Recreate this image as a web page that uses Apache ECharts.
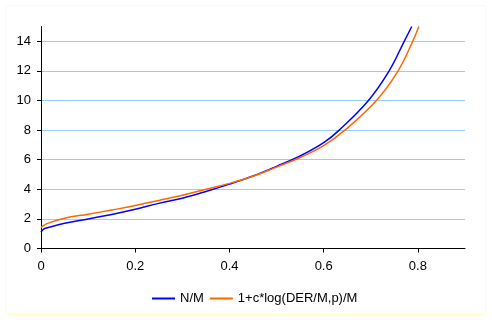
<!DOCTYPE html>
<html>
<head>
  <meta charset="UTF-8" />
  <title>N/M</title>
  <style>
    html, body { margin: 0; padding: 0; background: #fff; }
    #chart { width: 492px; height: 320px; }
  </style>
  <script src="https://cdn.jsdelivr.net/npm/echarts@6/dist/echarts.min.js"></script>
</head>
<body>
  <div id="chart"></div>
  <script>
    // values
    var blueX = [0, 0.005, 0.014, 0.05, 0.1, 0.15, 0.2, 0.25, 0.3, 0.35, 0.4, 0.45, 0.5, 0.55, 0.6, 0.633, 0.695, 0.739, 0.771, 0.787];
    var blueY = [1.1, 1.3, 1.4, 1.7, 2.0, 2.3, 2.65, 3.05, 3.4, 3.85, 4.35, 4.9, 5.55, 6.25, 7.15, 8.0, 10.0, 12.0, 14.0, 15.0];
    var orangeX = [0, 0.005, 0.014, 0.05, 0.1, 0.15, 0.2, 0.25, 0.3, 0.35, 0.4, 0.45, 0.5, 0.55, 0.6, 0.645, 0.712, 0.758, 0.789, 0.802];
    var orangeY = [1.4, 1.55, 1.7, 2.05, 2.32, 2.6, 2.9, 3.25, 3.6, 4.0, 4.4, 4.88, 5.5, 6.15, 6.95, 8.0, 10.0, 12.0, 14.0, 15.0];
    var xTicks = [0, 0.2, 0.4, 0.6, 0.8];
    var yTicks = [0, 2, 4, 6, 8, 10, 12, 14];
    var names = ['N/M', '1+c*log(DER/M,p)/M'];

    function pairs(xs, ys) {
      return xs.map(function (x, i) { return [x, ys[i]]; });
    }

    var font = { fontFamily: 'Liberation Sans, Arial, sans-serif', fontSize: 13, color: '#000' };

    var chart = echarts.init(document.getElementById('chart'), null, { renderer: 'canvas' });
    chart.setOption({
      animation: false,
      backgroundColor: '#fff',
      graphic: [{
        type: 'rect',
        shape: { x: 5.5, y: 5.5, width: 480, height: 309 },
        style: { fill: 'none', stroke: '#ffffcc', lineWidth: 1 },
        silent: true
      }],
      grid: { left: 41, right: 27, top: 26.5, bottom: 71.5 },
      xAxis: {
        type: 'value', min: 0, max: 0.9,
        axisLine: { lineStyle: { color: '#000', width: 1 } },
        axisTick: { show: true, length: 4, inside: false, customValues: xTicks, lineStyle: { color: '#000' } },
        axisLabel: Object.assign({ margin: 11, customValues: xTicks }, font),
        splitLine: { show: false }
      },
      yAxis: {
        type: 'value', min: 0, max: 15,
        axisLine: { show: true, lineStyle: { color: '#000', width: 1 } },
        axisTick: { show: true, length: 4, customValues: yTicks, lineStyle: { color: '#000' } },
        axisLabel: Object.assign({ margin: 10, customValues: yTicks }, font),
        splitLine: { show: true, lineStyle: { color: '#99ccff', width: 1 } }
      },
      legend: {
        left: 152, top: 292, padding: 0,
        itemWidth: 23, itemHeight: 2, itemGap: 6,
        icon: 'rect',
        textStyle: font,
        data: names
      },
      series: [
        {
          name: names[0], type: 'line', data: pairs(blueX, blueY),
          showSymbol: false, smooth: 0.4,
          lineStyle: { color: '#0000ff', width: 1.5 }, itemStyle: { color: '#0000ff' }
        },
        {
          name: names[1], type: 'line', data: pairs(orangeX, orangeY),
          showSymbol: false, smooth: 0.4,
          lineStyle: { color: '#ff6600', width: 1.5 }, itemStyle: { color: '#ff6600' }
        }
      ]
    });
  </script>
</body>
</html>
